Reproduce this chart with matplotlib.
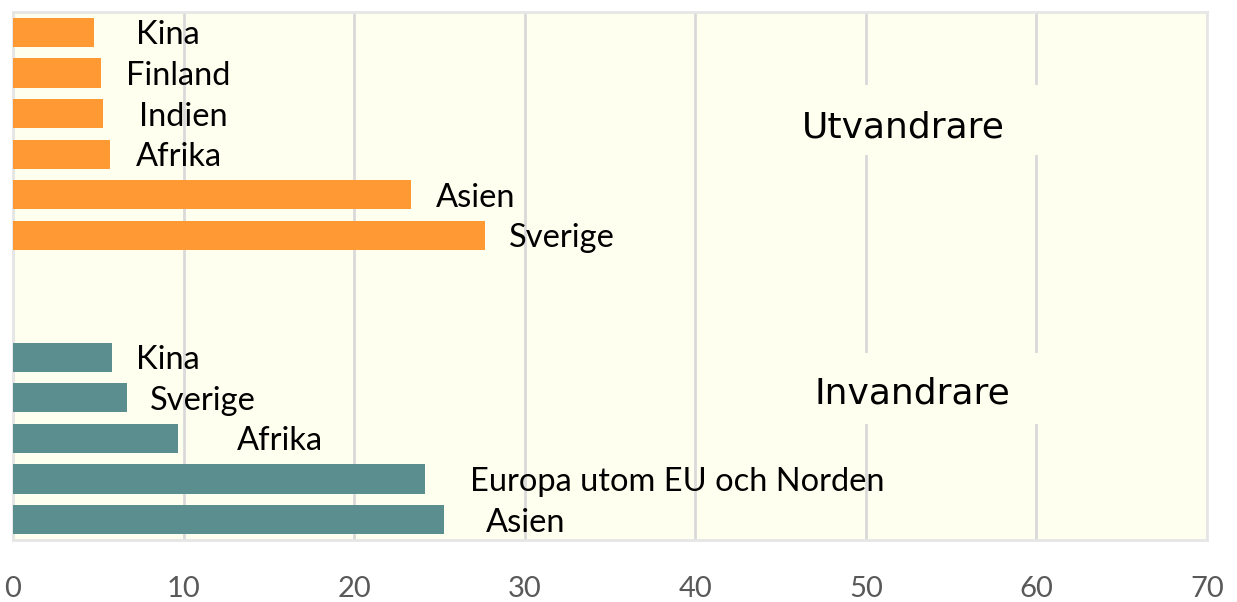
import numpy as np
import matplotlib
matplotlib.use("Agg")
import matplotlib.pyplot as plt
from matplotlib.patches import Rectangle

# data
ut_labels = ["Kina", "Finland", "Indien", "Afrika", "Asien", "Sverige"]
ut_values = [4.75, 5.15, 5.3, 5.7, 23.35, 27.65]
in_labels = ["Kina", "Sverige", "Afrika", "Europa utom EU och Norden", "Asien"]
in_values = [5.8, 6.7, 9.65, 24.15, 25.25]
x_ticks = [0, 10, 20, 30, 40, 50, 60, 70]

# label gaps (pixels) between bar end and text, as in the original
ut_pad = [42, 25, 36, 26, 25, 24]
in_pad = [24, 23, 59, 45, 42]

ORANGE = "#ff9933"
TEAL = "#5b8f8f"
BG = "#fffff0"
GRID = "#d9d9d9"

fig = plt.figure(figsize=(12.37, 6.02), dpi=100)
ax = fig.add_axes([13 / 1237, 62 / 602, 1194 / 1237, 528 / 602])
ax.set_facecolor(BG)

ut_y = np.arange(len(ut_labels))
in_y = np.arange(len(in_labels)) + len(ut_labels) + 2

ax.barh(ut_y, ut_values, height=0.72, color=ORANGE, zorder=3)
ax.barh(in_y, in_values, height=0.72, color=TEAL, zorder=3)

for y, v, lab, p in zip(ut_y, ut_values, ut_labels, ut_pad):
    ax.annotate(lab, (v, y), xytext=(p, -3), textcoords="offset pixels",
                va="center", ha="left", fontsize=23.5, family="Lato", zorder=5)
for y, v, lab, p in zip(in_y, in_values, in_labels, in_pad):
    ax.annotate(lab, (v, y), xytext=(p, -3), textcoords="offset pixels",
                va="center", ha="left", fontsize=23.5, family="Lato", zorder=5)

# group titles sit on boxes that hide the gridlines
ax.add_patch(Rectangle((44, 1.3), 20, 1.72, facecolor=BG, edgecolor="none", zorder=2))
ax.add_patch(Rectangle((44, 7.9), 20, 1.75, facecolor=BG, edgecolor="none", zorder=2))
ax.text(52.2, 2.34, "Utvandrare", ha="center", va="center", fontsize=26,
        family="DejaVu Sans", zorder=5)
ax.text(52.7, 8.9, "Invandrare", ha="center", va="center", fontsize=26,
        family="DejaVu Sans", zorder=5)

ax.set_xlim(0, 70)
ax.set_ylim(len(ut_labels) + len(in_labels) + 1.5, -0.5)
ax.set_xticks(x_ticks)
ax.set_yticks([])
ax.grid(axis="x", color=GRID, linewidth=2, zorder=1)
ax.tick_params(axis="x", length=0, pad=26, labelsize=21, labelcolor="#595959")
for t in ax.get_xticklabels():
    t.set_family("Lato")
for s in ax.spines.values():
    s.set_color("#e6e6e6")
    s.set_linewidth(2)

fig.savefig("out.png", dpi=100)
